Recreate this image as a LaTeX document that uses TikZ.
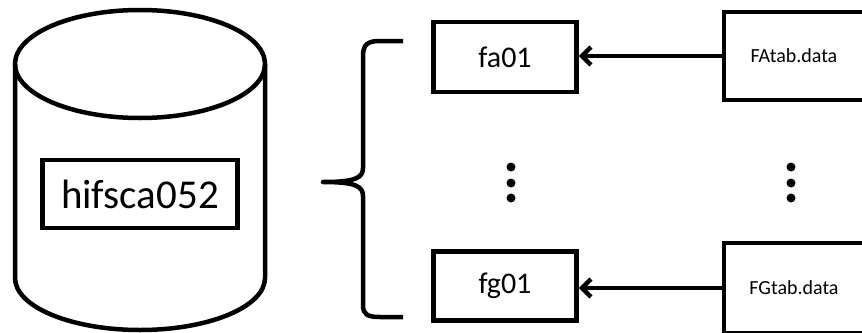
\documentclass[tikz,border=0pt]{standalone}
\usepackage{fontspec}
\setmainfont{Carlito}
\usetikzlibrary{arrows.meta}

\begin{document}
\begin{tikzpicture}[x=1pt,y=-1pt,line width=4.5pt,
    box/.style={draw,rectangle,inner sep=0pt},
    link/.style={-{Straight Barb[length=9pt,width=18pt]}},
    dot/.style={circle,fill,inner sep=0pt,minimum size=9pt}]
\useasboundingbox (0,0) rectangle (862,332);
\clip (0,0) rectangle (862,332);

% the database drum
\draw (15,64) -- (15,278) arc[start angle=180,end angle=0,x radius=125,y radius=52] -- (265,64);
\draw (140,64) ellipse [x radius=125,y radius=54];
\node[box,minimum width=195pt,minimum height=68pt,font=\fontsize{41}{41}\selectfont] (db) at (140,194) {hifsca052};

% brace
\draw[line join=round] (403,41) -- (380,41) .. controls (368,41) and (363,44) .. (363,56)
   -- (363,168) .. controls (363,178) and (355,182) .. (323,182)
   .. controls (355,182) and (363,186) .. (363,196)
   -- (363,305) .. controls (363,315) and (368,317) .. (380,317) -- (403,317);

% tables
\node[box,minimum width=143pt,minimum height=70pt,font=\fontsize{30}{30}\selectfont] (fa) at (505,57) {fa01};
\node[box,minimum width=143pt,minimum height=69pt,font=\fontsize{30}{30}\selectfont] (fg) at (505,286) {fg01};

% data files
\node[box,minimum width=140pt,minimum height=88pt,font=\fontsize{20}{20}\selectfont] (fatab) at (794,56) {FAtab.data};
\node[box,minimum width=140pt,minimum height=90pt,font=\fontsize{20}{20}\selectfont] (fgtab) at (794,288) {FGtab.data};

\draw[link] (fatab.west) -- (fatab.west -| fa.east);
\draw[link] (fgtab.west) -- (fgtab.west -| fg.east);

% dots
\foreach \y in {167,183,198} {
  \node[dot] (dl\y) at (511,\y) {};
  \node[dot] (dr\y) at (791,\y) {};
}

\end{tikzpicture}
\end{document}
